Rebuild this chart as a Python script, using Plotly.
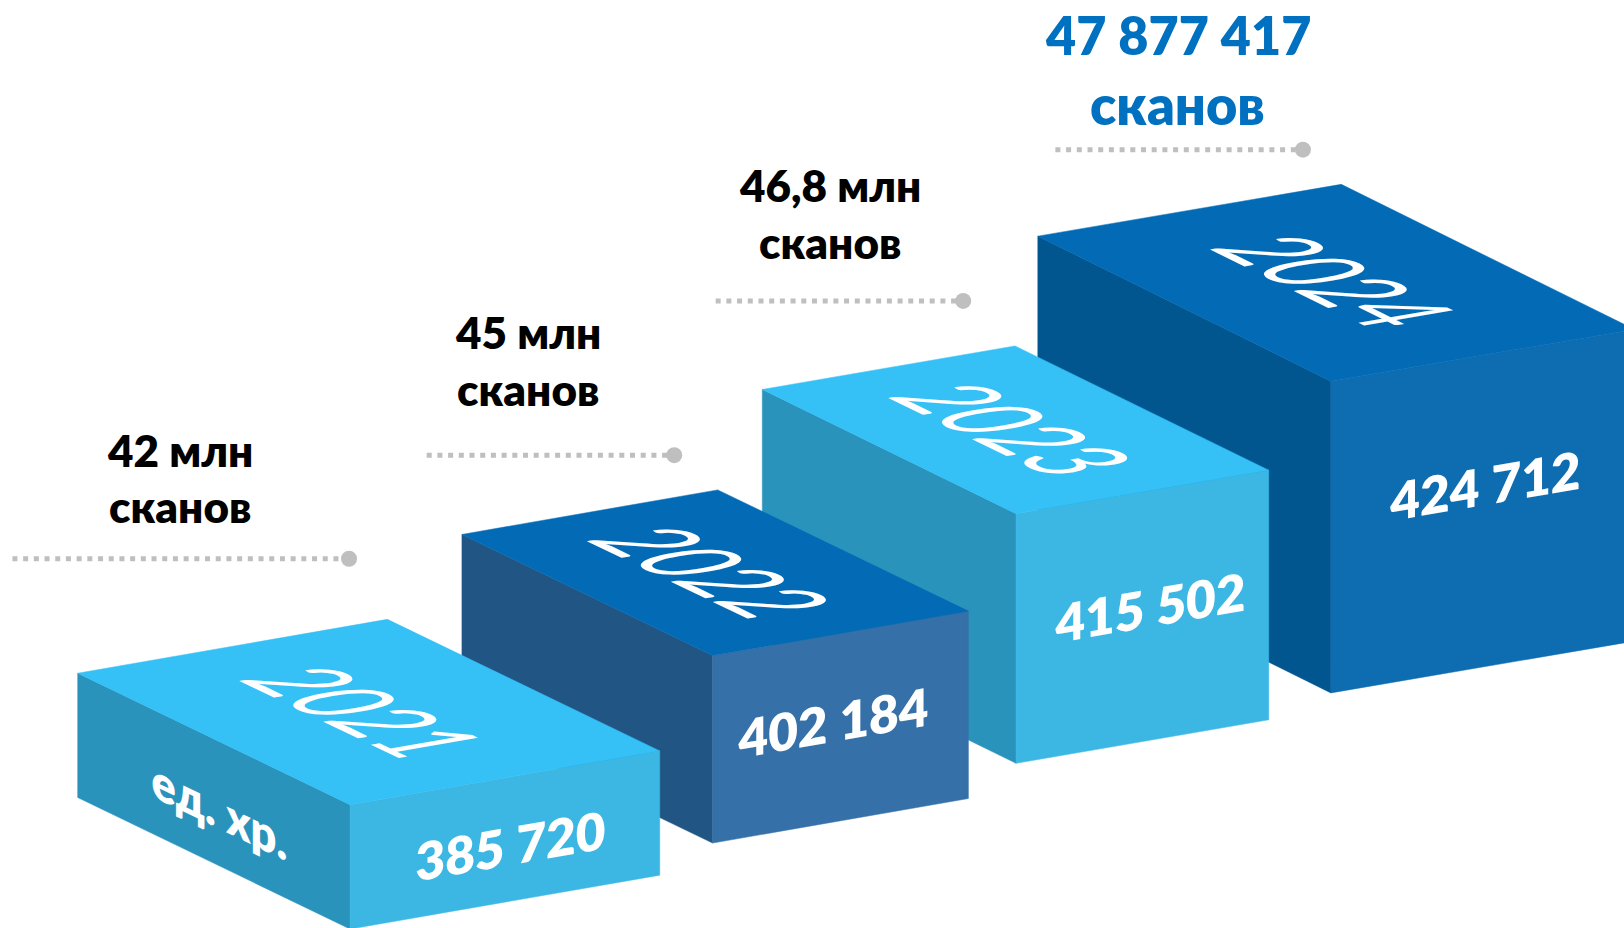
import json
import plotly.graph_objects as go

# ---------- data ----------
years = [2021, 2022, 2023, 2024]
items = [385720, 402184, 415502, 424712]
scan_first_lines = ["42 млн", "45 млн", "46,8 млн", "47 877 417"]
scan_second_line = "сканов"
unit_label = "ед. хр."

# ---------- styles ----------
top_colors = ["#35C0F6", "#036BB5", "#35C0F6", "#036BB5"]
left_colors = ["#2A93BC", "#215584", "#2A93BC", "#01568F"]
right_colors = ["#3CB7E4", "#3570A8", "#3CB7E4", "#0E6CB1"]
scan_colors = ["#000000", "#000000", "#000000", "#0070C0"]
FONT = "Lato, 'Open Sans', 'Noto Sans', sans-serif"
GREY = "#BFBFBF"
BOLD = 800

# ---------- block layout (drawing units = image px / S) ----------
S = 1624 / 1568
front_corner = [(338, 777), (688, 633), (981, 496), (1285, 368)]
depth_vec = [(263, 127), (242, 117), (245, 120), (283, 140)]
width_vec = [(299, -52), (247, -43), (244, -42), (293, -50)]
block_h = [120, 181, 241, 301]

year_pos = [(356, 687), (691, 552), (981, 414), (1292, 271)]
value_pos = [(493, 816), (804, 697), (1110, 586), (1434, 468)]
unit_pos = (212, 782)
leader_x = [(12, 337), (412, 651), (691, 930), (1019, 1258)]
leader_y = [539.5, 439.5, 290.5, 144.5]
scan_x = [174, 510, 801, 1137]
scan_y = [(434, 489), (321, 376), (179, 234), (34, 101)]
scan_size = [(44, 44), (44, 44), (44, 44), (52, 54)]

fig = go.Figure()


def poly(points, color):
    xs = [p[0] for p in points] + [points[0][0]]
    ys = [p[1] for p in points] + [points[0][1]]
    fig.add_trace(go.Scatter(x=xs, y=ys, mode="lines", fill="toself", fillcolor=color,
                             line=dict(color=color, width=0.5), hoverinfo="skip",
                             showlegend=False))


for i in reversed(range(len(years))):
    dx, dy = front_corner[i]
    ux, uy = depth_vec[i]
    vx, vy = width_vec[i]
    h = block_h[i]
    a = (dx - ux, dy - uy)
    c = (dx + vx, dy + vy)
    b = (a[0] + vx, a[1] + vy)
    poly([a, (a[0], a[1] + h), (dx, dy + h), (dx, dy)], left_colors[i])
    poly([(dx, dy), (dx, dy + h), (c[0], c[1] + h), c], right_colors[i])
    poly([a, b, c, (dx, dy)], top_colors[i])

for i in range(len(years)):
    fig.add_trace(go.Scatter(x=list(leader_x[i]), y=[leader_y[i]] * 2, mode="lines",
                             line=dict(color=GREY, width=5, dash="5px,5.7px"),
                             hoverinfo="skip", showlegend=False))
    fig.add_trace(go.Scatter(x=[leader_x[i][1]], y=[leader_y[i]], mode="markers",
                             marker=dict(color=GREY, size=16), hoverinfo="skip",
                             showlegend=False))

annotations = []
transforms = []


def unit(v):
    n = (v[0] ** 2 + v[1] ** 2) ** 0.5
    return (v[0] / n, v[1] / n)


def add_face_text(text, pos, size, weight, along, down, sx, sy):
    """Text laid into the plane of a block face: baseline along `along`, glyph-down along `down`."""
    annotations.append(dict(x=pos[0], y=pos[1], xref="x", yref="y", text=text, showarrow=False,
                            xanchor="center", yanchor="middle",
                            font=dict(family=FONT, size=size, color="#FFFFFF", weight=weight)))
    ax, ay = unit(along)
    bx, by = unit(down)
    transforms.append(dict(i=len(annotations) - 1, cx=pos[0] * S, cy=pos[1] * S,
                           m=[ax * sx, ay * sx, bx * sy, by * sy]))


for i, y in enumerate(years):
    ux, uy = depth_vec[i]
    vx, vy = width_vec[i]
    add_face_text(str(y), year_pos[i], 60, 400, (ux, uy), (-vx, -vy), 1.34, 2.1)
    label = f"{items[i]:,}".replace(",", "\u00a0")
    add_face_text(label, value_pos[i], 52, BOLD, (vx, vy), (0, 1), 1.0, 1.0)

add_face_text(unit_label, unit_pos, 50, BOLD, depth_vec[0], (0, 1), 1.0, 1.0)

for i, first in enumerate(scan_first_lines):
    for txt, yy, sz in zip((first, scan_second_line), scan_y[i], scan_size[i]):
        annotations.append(dict(x=scan_x[i], y=yy, xref="x", yref="y", text=txt, showarrow=False,
                                xanchor="center", yanchor="middle",
                                font=dict(family=FONT, size=sz, color=scan_colors[i],
                                          weight=BOLD)))

fig.update_layout(
    width=1624, height=928, margin=dict(l=0, r=0, t=0, b=0),
    paper_bgcolor="#FFFFFF", plot_bgcolor="#FFFFFF", showlegend=False,
    xaxis=dict(range=[0, 1568], visible=False, fixedrange=True),
    yaxis=dict(range=[896, 0], visible=False, fixedrange=True),
    annotations=annotations,
)

post = """
document.body.style.margin='0';
document.body.style.overflow='hidden';
var T=%s;
T.forEach(function(t){
  var g=document.querySelector('.annotation[data-index="'+t.i+'"] .annotation-text-g');
  if(!g)return;
  g.setAttribute('transform','translate('+t.cx+','+t.cy+') matrix('+t.m.join(',')+',0,0) translate('+(-t.cx)+','+(-t.cy)+')');
});
""" % json.dumps(transforms)

fig.write_html("out.html", post_script=post, config=dict(displayModeBar=False))
